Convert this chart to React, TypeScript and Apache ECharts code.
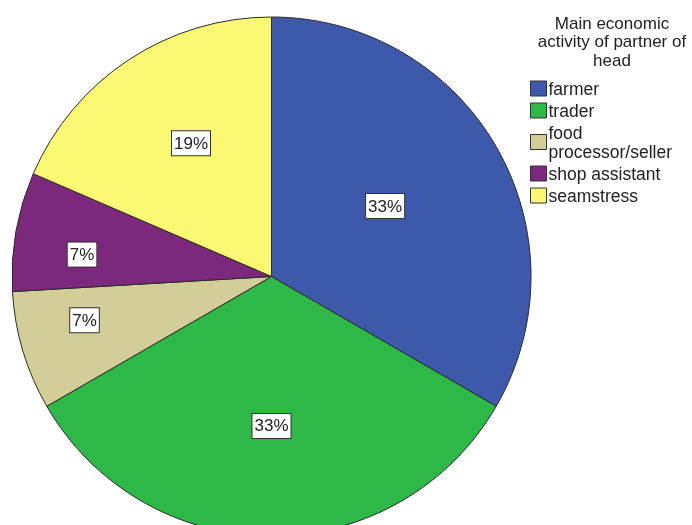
import React, { useEffect, useRef } from "react";
import * as echarts from "echarts";

const categories = ["farmer", "trader", "food processor/seller", "shop assistant", "seamstress"];
const counts = [9, 9, 2, 2, 5];
const percentLabels = ["33%", "33%", "7%", "7%", "19%"];
const colors = ["#3E58AC", "#2EB848", "#D3CE97", "#7C287D", "#FBF873"];
const legendTitle = "Main economic\nactivity of partner of\nhead";
// label placement (layout): distance from centre as fraction of radius, and angular shift in degrees
const labelRadiusFactor = [0.515, 0.576, 0.74, 0.735, 0.6];
const labelAngleShift = [-1.8, 0, 3.5, -3.4, 2.2];

const CX = 271.5;
const CY = 276.5;
const R = 259.5;

export default function App() {
  const ref = useRef<HTMLDivElement>(null);
  useEffect(() => {
    if (!ref.current) return;
    const chart = echarts.init(ref.current, undefined, { renderer: "svg" });
    const total = counts.reduce((a, b) => a + b, 0);
    const mids: number[] = [];
    let acc = 0;
    counts.forEach((v, i) => {
      mids.push(((acc + v / 2) / total) * Math.PI * 2 + (labelAngleShift[i] * Math.PI) / 180);
      acc += v;
    });
    const font = "Arial, 'Liberation Sans', sans-serif";
    chart.setOption({
      animation: false,
      graphic: [
        {
          type: "text",
          x: 612,
          y: 14,
          style: {
            text: legendTitle,
            align: "center",
            verticalAlign: "top",
            fontSize: 17,
            lineHeight: 18.5,
            fontFamily: font,
            fill: "#222",
          },
        },
      ],
      legend: {
        orient: "vertical",
        left: 530,
        top: 79,
        padding: 0,
        icon: "rect",
        itemWidth: 16,
        itemHeight: 15,
        itemGap: 3,
        selectedMode: false,
        data: categories,
        formatter: (name: string) => (name === "food processor/seller" ? "food\nprocessor/seller" : name),
        textStyle: { fontSize: 17.5, lineHeight: 19, fontFamily: font, color: "#222", padding: [0, 0, 0, -3] },
        itemStyle: { borderColor: "#333", borderWidth: 1 },
      },
      series: [
        {
          type: "pie",
          center: [CX, CY],
          radius: [0, R],
          startAngle: 90,
          clockwise: true,
          silent: true,
          avoidLabelOverlap: false,
          itemStyle: { borderColor: "#2a2a2a", borderWidth: 1 },
          label: {
            show: true,
            position: "inside",
            formatter: (p: any) => percentLabels[p.dataIndex],
            fontSize: 17,
            lineHeight: 18,
            fontFamily: font,
            color: "#222",
            backgroundColor: "#fff",
            borderColor: "#333",
            borderWidth: 1,
            padding: [3, 2, 3, 2],
          },
          labelLine: { show: false },
          labelLayout: (params: any) => {
            const i = params.dataIndex;
            const a = mids[i];
            const r = R * labelRadiusFactor[i];
            return { x: CX + Math.sin(a) * r, y: CY - Math.cos(a) * r };
          },
          emphasis: { disabled: true },
          data: categories.map((c, i) => ({ name: c, value: counts[i], itemStyle: { color: colors[i] } })),
        },
      ],
    });
    return () => chart.dispose();
  }, []);
  return <div ref={ref} style={{ position: "fixed", left: 0, top: 0, width: 692, height: 525 }} />;
}
